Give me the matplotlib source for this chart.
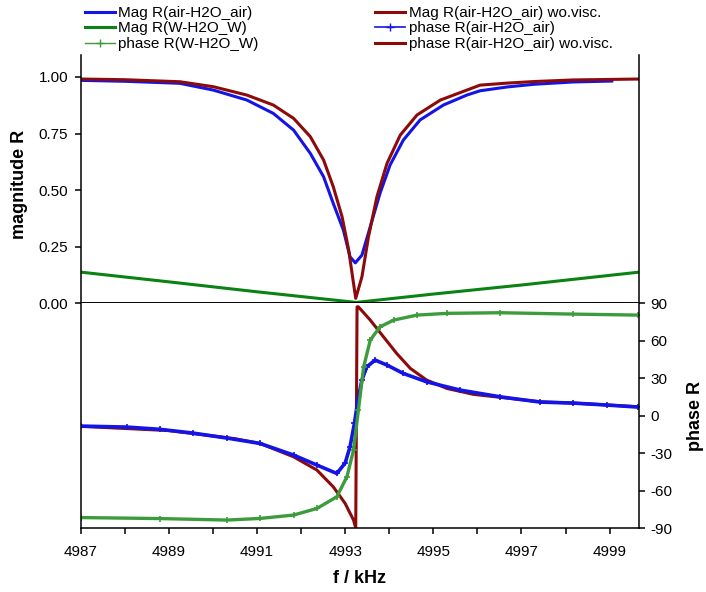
import numpy as np
import matplotlib.pyplot as plt
from matplotlib.lines import Line2D

plt.rcParams['font.family'] = ['Liberation Sans', 'DejaVu Sans']
plt.rcParams['axes.unicode_minus'] = False

# magnitude R, air-H2O-air (with viscosity)
f_mag_air = [4987.0, 4988.0, 4989.25, 4990.01, 4990.77, 4991.37, 4991.83, 4992.21, 4992.51,
             4992.73, 4992.96, 4993.11, 4993.23, 4993.38, 4993.57, 4993.79, 4994.02, 4994.32,
             4994.70, 4995.23, 4995.76, 4996.06, 4996.68, 4997.3, 4998.18, 4999.05]
mag_air = [0.985, 0.981, 0.972, 0.942, 0.898, 0.839, 0.765, 0.662, 0.559,
           0.441, 0.323, 0.205, 0.178, 0.212, 0.338, 0.485, 0.611, 0.721,
           0.810, 0.876, 0.920, 0.939, 0.956, 0.968, 0.978, 0.982]

# magnitude R, air-H2O-air without viscosity
f_mag_wov = [4987.0, 4988.0, 4989.25, 4990.01, 4990.77, 4991.37, 4991.83, 4992.21, 4992.51,
             4992.73, 4992.93, 4993.08, 4993.19, 4993.24, 4993.38, 4993.53, 4993.72, 4993.95,
             4994.25, 4994.63, 4995.16, 4995.76, 4996.06, 4996.68, 4997.3, 4998.18, 4999.67]
mag_wov = [0.991, 0.988, 0.979, 0.957, 0.920, 0.876, 0.817, 0.736, 0.633,
           0.515, 0.382, 0.235, 0.087, 0.021, 0.116, 0.294, 0.470, 0.618,
           0.743, 0.832, 0.898, 0.942, 0.964, 0.973, 0.980, 0.987, 0.991]

# magnitude R, W-H2O-W
f_mag_w = [4987.0, 4989.0, 4991.0, 4993.25, 4995.0, 4997.0, 4999.67]
mag_w = [0.137, 0.094, 0.05, 0.003, 0.04, 0.08, 0.137]

# phase R, air-H2O-air
f_ph_air = [4987.0, 4988.05, 4988.8, 4989.55, 4990.32, 4991.07, 4991.83, 4992.36, 4992.81,
            4993.0, 4993.11, 4993.21, 4993.29, 4993.38, 4993.49, 4993.68, 4993.95, 4994.32,
            4994.85, 4995.61, 4996.52, 4997.43, 4998.18, 4998.95, 4999.65]
ph_air = [-8.4, -9.2, -11, -14, -18, -22.3, -31.6, -39.6, -46.3,
          -38, -25, -6.3, 12.4, 28.4, 39, 44.4, 40.4, 33.7,
          27, 20.4, 15, 10.8, 10, 8.4, 6.8]

# phase R, air-H2O-air without viscosity
f_ph_wov = [4987.0, 4989.0, 4990.5, 4991.07, 4991.83, 4992.36, 4992.73, 4993.0, 4993.19,
            4993.24, 4993.27, 4993.30, 4993.57, 4993.87, 4994.17, 4994.48, 4994.85, 4995.31,
            4995.91, 4996.68, 4997.43, 4998.18, 4998.95, 4999.67]
ph_wov = [-8.6, -12, -18.5, -22.3, -33, -43.6, -57, -70.3, -83.6,
          -90, 87, 87, 76.4, 63, 49.7, 37.7, 28.4, 21.7,
          17, 14, 11, 10, 8.5, 7]

# phase R, W-H2O-W
f_ph_w = [4987.0, 4988.8, 4990.32, 4991.07, 4991.83, 4992.36, 4992.81, 4993.04, 4993.19,
          4993.30, 4993.42, 4993.57, 4993.79, 4994.10, 4994.63, 4995.31, 4996.52, 4998.18,
          4999.65]
ph_w = [-81.6, -82.4, -83.6, -82.3, -79.6, -74.3, -65, -49, -27.6,
        4.4, 39, 60.4, 71, 76.4, 80.4, 81.8, 82.3, 81.2,
        80.4]

mag_ticks = [0.0, 0.25, 0.5, 0.75, 1.0]
phase_ticks = [-90, -60, -30, 0, 30, 60, 90]
f_ticks = list(range(4987, 5000))

c_blue = '#1414e6'
c_red = '#8c0a0a'
c_green = '#0a8214'
c_lgreen = '#3c9c3c'

fig = plt.figure(figsize=(7.06, 5.92), dpi=100)
ax1 = fig.add_axes([0.1143, 0.488, 0.791, 0.419])
ax2 = fig.add_axes([0.1143, 0.108, 0.791, 0.380])

ax1.plot(f_mag_air, mag_air, color=c_blue, lw=2.2)
ax1.plot(f_mag_wov, mag_wov, color=c_red, lw=2.2)
ax1.plot(f_mag_w, mag_w, color=c_green, lw=2.2)

ax2.plot(f_ph_wov, ph_wov, color=c_red, lw=2.2)
ax2.plot(f_ph_air, ph_air, color=c_blue, lw=2.6, marker='+', ms=5, mew=1.2)
ax2.plot(f_ph_w, ph_w, color=c_lgreen, lw=2.4, marker='+', ms=5, mew=1.2)

for ax in (ax1, ax2):
    ax.set_xlim(4987, 4999.67)
    ax.spines['top'].set_visible(False)
    for s in ax.spines.values():
        s.set_linewidth(1.1)
    ax.tick_params(labelsize=11, length=4, width=1.1, direction='out')
ax1.spines['bottom'].set_linewidth(1.4)

ax1.set_ylim(0, 1.097)
ax1.set_yticks(mag_ticks)
ax1.set_yticklabels(['%.2f' % v for v in mag_ticks])
ax1.set_xticks([])
ax1.tick_params(axis='y', left=True, right=False, pad=5)
ax1.set_ylabel('magnitude R', fontsize=13, fontweight='bold')
ax1.yaxis.set_label_coords(-0.094, 0.48)

ax2.set_ylim(-90, 90)
ax2.yaxis.tick_right()
ax2.set_yticks(phase_ticks)
ax2.set_yticklabels([str(v) for v in phase_ticks])
ax2.tick_params(axis='y', pad=4)
ax2.yaxis.set_label_position('right')
ax2.set_ylabel('phase R', fontsize=13, fontweight='bold', rotation=90)
ax2.yaxis.set_label_coords(1.085, 0.5)
ax2.set_xticks(f_ticks)
ax2.set_xticklabels([str(v) if v % 2 == 1 else '' for v in f_ticks])
ax2.tick_params(axis='x', pad=8)
ax2.set_xlabel('f / kHz', fontsize=13, fontweight='bold', labelpad=8)

handles = [
    Line2D([], [], color=c_blue, lw=2.2),
    Line2D([], [], color=c_green, lw=2.2),
    Line2D([], [], color=c_lgreen, lw=1.0, marker='+', ms=6),
    Line2D([], [], color=c_red, lw=2.2),
    Line2D([], [], color=c_blue, lw=1.2, marker='+', ms=6),
    Line2D([], [], color=c_red, lw=2.2),
]
labels = ['Mag R(air-H2O_air)', 'Mag R(W-H2O_W)', 'phase R(W-H2O_W)',
          'Mag R(air-H2O_air) wo.visc.', 'phase R(air-H2O_air)', 'phase R(air-H2O_air) wo.visc.']
fig.legend(handles, labels, ncol=2, loc='upper left', bbox_to_anchor=(0.105, 1.008),
           frameon=False, fontsize=11, handlelength=2.0, handletextpad=0.2,
           labelspacing=0.1, columnspacing=7.6, borderpad=0.2)

fig.savefig('out.png', dpi=100)
